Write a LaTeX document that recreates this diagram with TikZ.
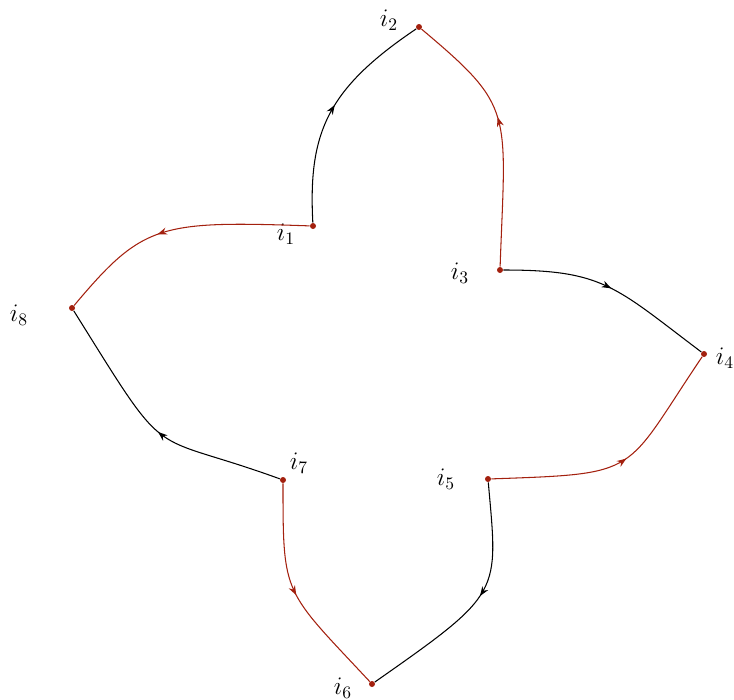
\documentclass[tikz,border=0pt]{standalone}
\usetikzlibrary{arrows.meta,decorations.markings}
\definecolor{edgered}{HTML}{A3200E}
\definecolor{dotred}{HTML}{A3200E}

\begin{document}
\begin{tikzpicture}[x=0.02cm, y=0.02cm,
  vtx/.style={circle, fill=dotred, inner sep=0pt, minimum size=1.2mm},
  lbl/.style={font=\Large, inner sep=0pt},
  midarrow/.style={line width=0.6pt, postaction={decorate},
    decoration={markings, mark=at position #1 with {\arrow{Stealth[length=1.9mm,width=1.4mm]}}}},
  midarrow/.default=0.5,
  blk/.style={midarrow=#1, black}, blk/.default=0.5,
  rd/.style={midarrow=#1, edgered}, rd/.default=0.5,
]
\useasboundingbox (0,0) rectangle (734,-700);

% vertices
\node[vtx] (i1) at (313,-226) {};
\node[vtx] (i2) at (419,-27)  {};
\node[vtx] (i3) at (500,-270) {};
\node[vtx] (i4) at (704,-354) {};
\node[vtx] (i5) at (488,-479) {};
\node[vtx] (i6) at (372,-684) {};
\node[vtx] (i7) at (283,-480) {};
\node[vtx] (i8) at (72,-308)  {};

% labels
\node[lbl] (l1) at (286,-234) {$i_1$};
\node[lbl] (l2) at (389,-20)  {$i_2$};
\node[lbl] (l3) at (460,-273) {$i_3$};
\node[lbl] (l4) at (725,-358) {$i_4$};
\node[lbl] (l5) at (446,-479) {$i_5$};
\node[lbl] (l6) at (343,-688) {$i_6$};
\node[lbl] (l7) at (299,-463) {$i_7$};
\node[lbl] (l8) at (19,-315)  {$i_8$};

% edges
\draw[blk=0.52] (i1) to[out=93, in=214, out looseness=1.05, in looseness=1.25] (i2);
\draw[rd=0.56]  (i3) to[out=88, in=-40, out looseness=1.6, in looseness=1.25] (i2);
\draw[blk]      (i3) to[out=0, in=143, out looseness=1.2, in looseness=1.3] (i4);
\draw[rd=0.52]  (i5) to[out=2, in=236, out looseness=1.6, in looseness=1.5] (i4);
\draw[blk=0.46] (i5) to[out=-85, in=35, out looseness=1.25, in looseness=1.75] (i6);
\draw[rd]       (i7) to[out=-90, in=133, out looseness=1.35, in looseness=1.5] (i6);
\draw[blk=0.47] (i7) to[out=160, in=-58, out looseness=1.4, in looseness=1.8] (i8);
\draw[rd=0.58]  (i1) to[out=178, in=50, out looseness=1.55, in looseness=1.1] (i8);

\end{tikzpicture}
\end{document}
